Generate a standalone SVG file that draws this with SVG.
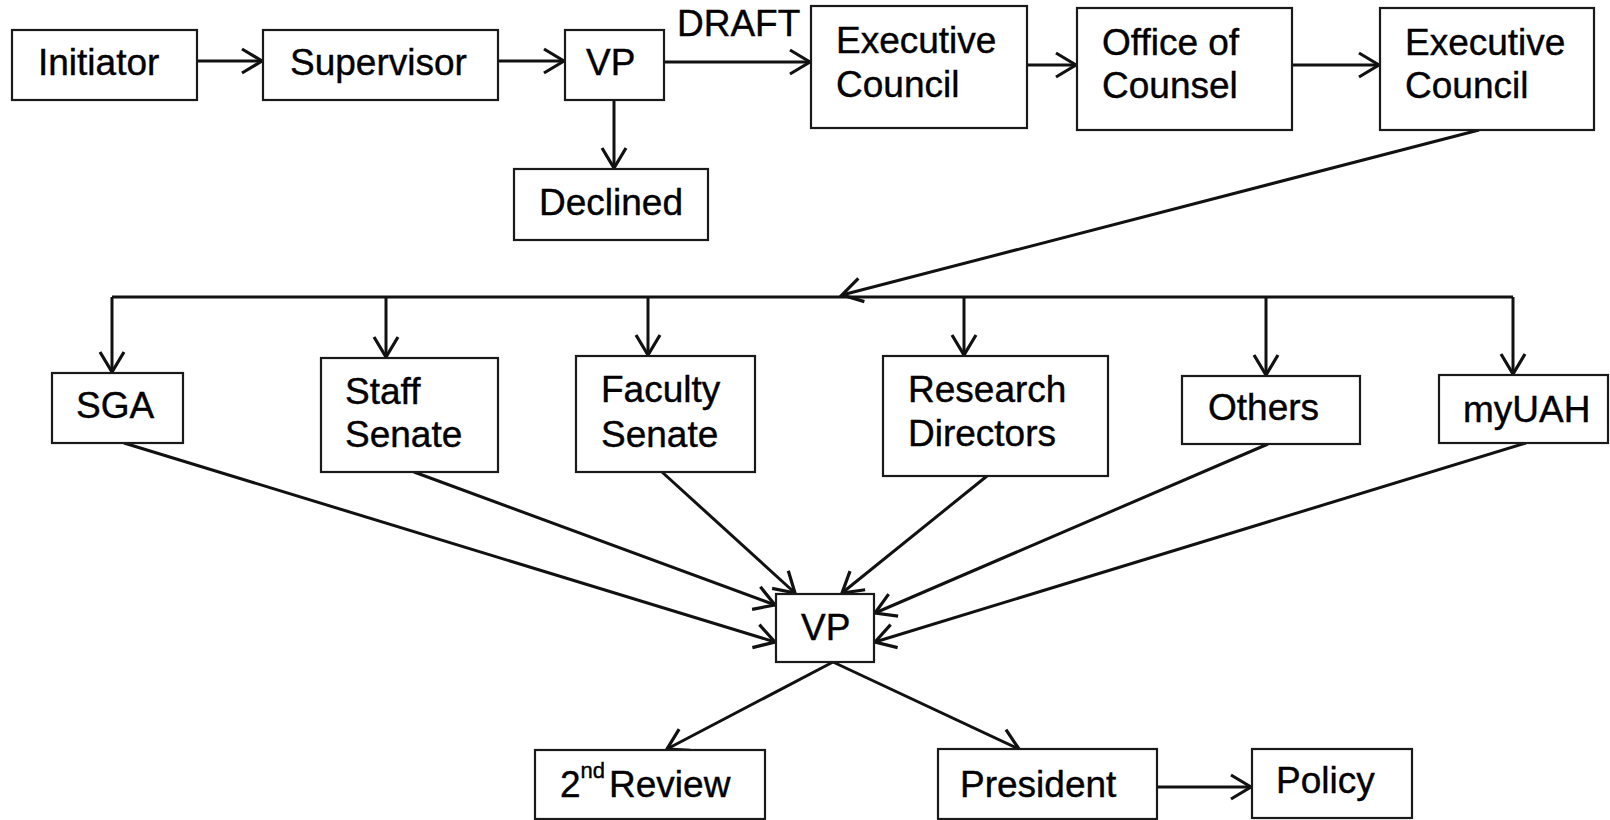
<svg xmlns="http://www.w3.org/2000/svg" width="1610" height="820" viewBox="0 0 1610 820">
<style>
.box{fill:#fff;stroke:#1a1a1a;stroke-width:2.2}
.t{font-family:"Liberation Sans",Arial,sans-serif;font-size:37px;fill:#000;stroke:#000;stroke-width:0.4}
.c{fill:none;stroke:#111;stroke-width:3}
.ca{fill:none;stroke:#111;stroke-width:3;marker-end:url(#ah)}
</style>
<defs>
<marker id="ah" markerUnits="userSpaceOnUse" viewBox="-3 -3 26 30" markerWidth="26" markerHeight="30" refX="20" refY="12" orient="auto">
<path d="M0,0 L20,12 L0,24" fill="none" stroke="#111" stroke-width="3.2"/>
</marker>
</defs>
<rect width="1610" height="820" fill="#fff"/>
<g id="connectors">
<line class="ca" x1="197" y1="61" x2="262" y2="61"/>
<line class="ca" x1="498" y1="61" x2="564" y2="61"/>
<line class="ca" x1="664" y1="62" x2="810" y2="62"/>
<line class="ca" x1="614" y1="100" x2="614" y2="168"/>
<line class="ca" x1="1027" y1="65" x2="1076" y2="65"/>
<line class="ca" x1="1292" y1="65" x2="1379" y2="65"/>
<line class="ca" x1="1479" y1="130" x2="842" y2="295"/>
<line class="c" x1="112" y1="297" x2="1513" y2="297"/>
<line class="ca" x1="112" y1="297" x2="112" y2="372"/>
<line class="ca" x1="386" y1="297" x2="386" y2="357"/>
<line class="ca" x1="648" y1="297" x2="648" y2="355"/>
<line class="ca" x1="964" y1="297" x2="964" y2="355"/>
<line class="ca" x1="1266" y1="297" x2="1266" y2="375"/>
<line class="ca" x1="1513" y1="297" x2="1513" y2="374"/>
<line class="ca" x1="124" y1="443" x2="775" y2="642"/>
<line class="ca" x1="414" y1="472" x2="775" y2="605"/>
<line class="ca" x1="662" y1="472" x2="795" y2="593"/>
<line class="ca" x1="987" y1="476" x2="842" y2="593"/>
<line class="ca" x1="1268" y1="444" x2="875" y2="613"/>
<line class="ca" x1="1526" y1="443" x2="875" y2="642"/>
<line class="ca" x1="833" y1="662" x2="667" y2="749"/>
<line class="ca" x1="833" y1="662" x2="1019" y2="749"/>
<line class="ca" x1="1157" y1="787" x2="1251" y2="787"/>
</g>
<text class="t" x="677" y="36">DRAFT</text>
<g id="initiator"><rect class="box" x="12" y="30" width="185" height="70"/><text class="t" x="38" y="75">Initiator</text></g>
<g id="supervisor"><rect class="box" x="263" y="30" width="235" height="70"/><text class="t" x="290" y="75">Supervisor</text></g>
<g id="vp1"><rect class="box" x="565" y="30" width="99" height="70"/><text class="t" x="586" y="75">VP</text></g>
<g id="declined"><rect class="box" x="514" y="169" width="194" height="71"/><text class="t" x="539" y="215">Declined</text></g>
<g id="exec1"><rect class="box" x="811" y="6" width="216" height="122"/><text class="t" x="836" y="53">Executive</text><text class="t" x="836" y="97">Council</text></g>
<g id="counsel"><rect class="box" x="1077" y="8" width="215" height="122"/><text class="t" x="1102" y="55">Office of</text><text class="t" x="1102" y="98">Counsel</text></g>
<g id="exec2"><rect class="box" x="1380" y="8" width="214" height="122"/><text class="t" x="1405" y="55">Executive</text><text class="t" x="1405" y="98">Council</text></g>
<g id="sga"><rect class="box" x="52" y="373" width="131" height="70"/><text class="t" x="76" y="418">SGA</text></g>
<g id="staff"><rect class="box" x="321" y="358" width="177" height="114"/><text class="t" x="345" y="404">Staff</text><text class="t" x="345" y="447">Senate</text></g>
<g id="faculty"><rect class="box" x="576" y="356" width="179" height="116"/><text class="t" x="601" y="402">Faculty</text><text class="t" x="601" y="447">Senate</text></g>
<g id="research"><rect class="box" x="883" y="356" width="225" height="120"/><text class="t" x="908" y="402">Research</text><text class="t" x="908" y="446">Directors</text></g>
<g id="others"><rect class="box" x="1182" y="376" width="178" height="68"/><text class="t" x="1208" y="420">Others</text></g>
<g id="myuah"><rect class="box" x="1439" y="375" width="169" height="68"/><text class="t" x="1463" y="422">myUAH</text></g>
<g id="vp2"><rect class="box" x="776" y="594" width="98" height="68"/><text class="t" x="801" y="640">VP</text></g>
<g id="review"><rect class="box" x="535" y="750" width="230" height="69"/><text class="t" x="560" y="797">2<tspan font-size="22" dy="-19">nd</tspan><tspan dy="19" dx="4">Review</tspan></text></g>
<g id="president"><rect class="box" x="938" y="749" width="219" height="70"/><text class="t" x="960" y="797">President</text></g>
<g id="policy"><rect class="box" x="1252" y="749" width="160" height="69"/><text class="t" x="1276" y="793">Policy</text></g>
</svg>
